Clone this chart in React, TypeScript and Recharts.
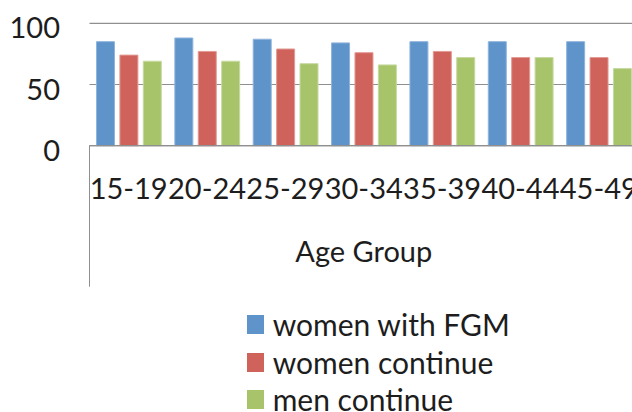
import { BarChart, Bar, XAxis, YAxis, CartesianGrid, Legend } from 'recharts'

const ageGroups = ['15-19', '20-24', '25-29', '30-34', '35-39', '40-44', '45-49']
const womenWithFgm = [85, 88, 87, 84, 85, 85, 85]
const womenContinue = [74, 77, 79, 76, 77, 72, 72]
const menContinue = [69, 69, 67, 66, 72, 72, 63]
const yTicks = [0, 50, 100]
const seriesKeys = ['fgm', 'women', 'men']

const data = ageGroups.map((group, i) => ({
  group,
  fgm: womenWithFgm[i],
  women: womenContinue[i],
  men: menContinue[i],
}))

const FONT = "Lato, 'Open Sans', sans-serif"
const TEXT = '#1d1d1d'
const LINE = '#8f8f8f'

const CHART_W = 660
const CHART_H = 412
const MARGIN = { top: 23.3, right: 22, left: 0, bottom: 0 }
const Y_AXIS_W = 89.5
const X_AXIS_H = 266.3
const PLOT_LEFT = MARGIN.left + Y_AXIS_W
const PLOT_BOTTOM = CHART_H - MARGIN.bottom - X_AXIS_H

// category labels, plus the divider that runs down past the axis title
function CategoryTick(props: any) {
  const { x, payload, index } = props
  return (
    <g>
      {index === 0 && <line x1={PLOT_LEFT} x2={PLOT_LEFT} y1={PLOT_BOTTOM} y2={PLOT_BOTTOM + 141} stroke={LINE} strokeWidth={1} />}
      <text x={x} y={PLOT_BOTTOM + 53.5} textAnchor="middle" fill={TEXT} fontSize={29} fontFamily={FONT}>
        {payload.value}
      </text>
    </g>
  )
}

function ValueTick(props: any) {
  const { y, payload } = props
  return (
    <text x={60} y={y} dy={15} textAnchor="end" fill={TEXT} fontSize={29} fontFamily={FONT}>
      {payload.value}
    </text>
  )
}

function SeriesLegend(props: any) {
  const { payload } = props
  return (
    <div style={{ fontFamily: FONT }}>
      {payload.map((entry: any) => (
        <div key={entry.value} style={{ display: 'flex', alignItems: 'center', height: 37.5 }}>
          <span style={{ display: 'inline-block', width: 17, height: 19, background: entry.color, marginRight: 9 }} />
          <span style={{ fontSize: 30, lineHeight: '37.5px', color: TEXT, whiteSpace: 'nowrap' }}>{entry.value}</span>
        </div>
      ))}
    </div>
  )
}

export default function App() {
  return (
    <div style={{ position: 'absolute', left: 0, top: 0, width: 632, height: 412, overflow: 'hidden', background: '#fff' }}>
      <BarChart width={CHART_W} height={CHART_H} data={data} margin={MARGIN} barSize={18} barGap={5.4}>
        <CartesianGrid vertical={false} stroke={LINE} strokeWidth={1.2} />
        <XAxis
          dataKey="group"
          height={X_AXIS_H}
          axisLine={{ stroke: LINE, strokeWidth: 1.2 }}
          tickLine={false}
          tick={CategoryTick}
          interval={0}
          label={{ value: 'Age Group', position: 'insideBottom', offset: 150.3, fill: TEXT, fontSize: 29, fontFamily: FONT }}
        />
        <YAxis
          width={Y_AXIS_W}
          domain={[0, 100]}
          ticks={yTicks}
          axisLine={false}
          tickLine={false}
          tick={ValueTick}
        />
        <Legend
          layout="vertical"
          align="center"
          verticalAlign="middle"
          content={SeriesLegend}
          itemSorter={(item: any) => seriesKeys.indexOf(item.dataKey)}
          wrapperStyle={{ left: 246.7, top: 306 }}
        />
        <Bar dataKey="fgm" name="women with FGM" fill="#5f94ca" stroke="#8fb4dd" strokeWidth={1} isAnimationActive={false} />
        <Bar dataKey="women" name="women continue" fill="#cf625b" stroke="#e29a94" strokeWidth={1} isAnimationActive={false} />
        <Bar dataKey="men" name="men continue" fill="#a7c46a" stroke="#c6d9a0" strokeWidth={1} isAnimationActive={false} />
      </BarChart>
    </div>
  )
}
